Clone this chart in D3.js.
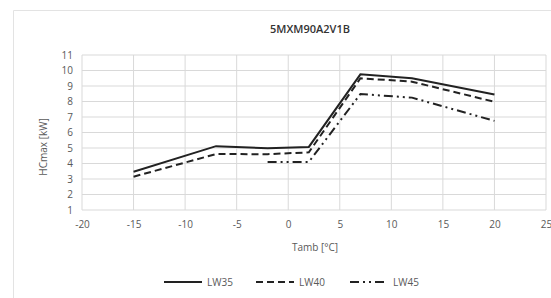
<!DOCTYPE html>
<html><head><meta charset="utf-8">
<script src="https://cdn.jsdelivr.net/npm/d3@7"></script>
<style>body{margin:0;background:#fff}svg{display:block}text{font-family:"Open Sans","Noto Sans",sans-serif}</style>
</head><body>
<svg id="c" width="551" height="298"></svg>
<script>
const title = "5MXM90A2V1B";
const temps = [-15, -7, -2, 2, 7, 12, 20];
const temps45 = [-2, 2, 7, 12, 20];
const lw35 = [3.47, 5.12, 4.98, 5.07, 9.75, 9.5, 8.45];
const lw40 = [3.15, 4.61, 4.6, 4.72, 9.5, 9.28, 7.98];
const lw45 = [4.1, 4.1, 8.48, 8.25, 6.75];
const seriesNames = ["LW35", "LW40", "LW45"];
const xTicks = [-20, -15, -10, -5, 0, 5, 10, 15, 20, 25];
const yTicks = [1, 2, 3, 4, 5, 6, 7, 8, 9, 10, 11];

const svg = d3.select("#c");
const x = d3.scaleLinear().domain([-20, 25]).range([82, 546]);
const y = d3.scaleLinear().domain([1, 11]).range([210, 55]);

// outer chart border
svg.append("path").attr("d", "M13.5,298 V10.5 H551").attr("fill", "none").attr("stroke", "#e3e3e3").attr("stroke-width", 1);

// gridlines
const g = svg.append("g");
g.selectAll(".hy").data(yTicks).join("line")
  .attr("x1", x(-20)).attr("x2", x(25)).attr("y1", d => y(d)).attr("y2", d => y(d))
  .attr("stroke", "#d9d9d9").attr("stroke-width", 1);
g.selectAll(".vx").data(xTicks).join("line")
  .attr("y1", y(1)).attr("y2", y(11)).attr("x1", d => x(d)).attr("x2", d => x(d))
  .attr("stroke", "#d9d9d9").attr("stroke-width", 1);

// axes labels via d3 axes
const ax = svg.append("g").attr("transform", `translate(0,${y(1)})`)
  .call(d3.axisBottom(x).tickValues(xTicks).tickFormat(d => String(d)).tickSize(0).tickPadding(11));
ax.select(".domain").remove();
ax.selectAll("text").attr("fill", "#595959").style("font-size", "10px");
const ay = svg.append("g").attr("transform", `translate(${x(-20)},0)`)
  .call(d3.axisLeft(y).tickValues(yTicks).tickFormat(d => String(d)).tickSize(0).tickPadding(9));
ay.select(".domain").remove();
ay.selectAll("text").attr("fill", "#595959").style("font-size", "10px");

// title
svg.append("text").attr("x", 310).attr("y", 33).attr("text-anchor", "middle")
  .style("font-size", "11px").style("font-weight", "600").attr("fill", "#333").text(title);
// axis titles
svg.append("text").attr("x", 315).attr("y", 251).attr("text-anchor", "middle")
  .style("font-size", "10px").attr("fill", "#595959").text("Tamb [°C]");
svg.append("text").attr("transform", "translate(47,147) rotate(-90)").attr("text-anchor", "middle")
  .style("font-size", "10px").attr("fill", "#595959").text("HCmax [kW]");

const dashes = ["none", "7,4", "9,4,2,4,2,4"];
const line = d3.line().x(d => x(d[0])).y(d => y(d[1]));
const data = [d3.zip(temps, lw35), d3.zip(temps, lw40), d3.zip(temps45, lw45)];
data.forEach((d, i) => {
  svg.append("path").attr("d", line(d)).attr("fill", "none").attr("stroke", "#222")
    .attr("stroke-width", 2).attr("stroke-dasharray", dashes[i]);
});

// legend
const lx = [164, 256, 350];
seriesNames.forEach((n, i) => {
  svg.append("line").attr("x1", lx[i]).attr("x2", lx[i] + 38).attr("y1", 282).attr("y2", 282)
    .attr("stroke", "#222").attr("stroke-width", 2).attr("stroke-dasharray", dashes[i]);
  svg.append("text").attr("x", lx[i] + 43).attr("y", 285.5).style("font-size", "10px")
    .attr("fill", "#595959").text(n);
});
</script>
</body></html>
